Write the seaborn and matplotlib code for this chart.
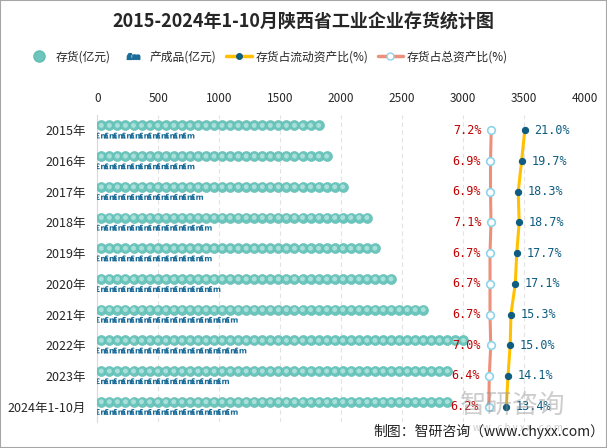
import numpy as np
import pandas as pd
import matplotlib
matplotlib.use('Agg')
from matplotlib import pyplot as plt
from matplotlib.lines import Line2D
from matplotlib.patches import Rectangle
import seaborn as sns

years = ['2015年', '2016年', '2017年', '2018年', '2019年', '2020年', '2021年',
         '2022年', '2023年', '2024年1-10月']
inventory = [1866, 1959, 2085, 2290, 2339, 2495, 2735, 3077, 2965, 2950]
finished = [793, 834, 875, 943, 946, 1033, 1142, 1274, 1123, 1170]
liquid_ratio = [21.0, 19.7, 18.3, 18.7, 17.7, 17.1, 15.3, 15.0, 14.1, 13.4]
total_ratio = [7.2, 6.9, 6.9, 7.1, 6.7, 6.7, 6.7, 7.0, 6.4, 6.2]

teal = '#6cc6bd'
teal_in = '#a9e0d9'
icon_blue = '#1b6d99'
gold = '#ffc000'
dot_blue = '#0e5c80'
salmon = '#ee9079'
ring = '#8fd3ea'
red_txt = '#c00000'

sns.set_style('white')
plt.rcParams['font.family'] = ['Noto Sans CJK SC', 'DejaVu Sans']

fig = plt.figure(figsize=(6.07, 4.48), dpi=100)
ax = fig.add_axes([0.1603, 0.058, 0.8035, 0.6853])
ax2 = ax.twiny()

ypos = np.arange(len(years))

# repeated symbols for the pictorial bars
def repeat_points(values, step, offset):
    xs, ys = [], []
    for i, v in enumerate(values):
        pts = np.arange(step / 2, v - step / 2 + 1, step)
        xs.extend(pts)
        ys.extend([i + offset] * len(pts))
    return pd.DataFrame({'x': xs, 'y': ys})

inv_df = repeat_points(inventory, 66, -0.16)
fin_df = repeat_points(finished, 71, 0.17)

sns.scatterplot(data=inv_df, x='x', y='y', ax=ax, s=52, color=teal,
                edgecolor='#62bcb2', linewidth=0.4, zorder=3, legend=False)
sns.scatterplot(data=inv_df, x='x', y='y', ax=ax, s=12, color=teal_in,
                edgecolor='none', zorder=4, legend=False)
sns.scatterplot(data=fin_df, x='x', y='y', ax=ax, s=80, color=icon_blue,
                marker=r'$\mathbf{£m}$', edgecolor='none', zorder=3, legend=False)

ax.set_xlim(0, 4000)
ax.set_ylim(len(years) - 0.5, -0.5)
ax.set_xticks(np.arange(0, 4001, 500))
ax.xaxis.tick_top()
ax.xaxis.set_label_position('top')
ax.tick_params(axis='x', length=0, labelsize=8.5, pad=7, labeltop=True,
               labelbottom=False)
ax.tick_params(axis='y', length=0, labelsize=9, pad=8)
ax.set_yticks(ypos)
ax.set_yticklabels(years)
ax.set_xlabel('')
ax.set_ylabel('')
ax.grid(axis='x', color='#e3e3e3', linestyle=(0, (4, 3)), linewidth=0.8)
for s in ['top', 'right', 'bottom']:
    ax.spines[s].set_visible(False)
ax.spines['left'].set_color('#d9d9d9')

# ratio lines on a second x axis
ax2.set_xlim(-154.9, 45.8)
ratio_df = pd.DataFrame({'y': ypos, 'liquid': liquid_ratio, 'total': total_ratio})
sns.lineplot(data=ratio_df, x='total', y='y', ax=ax2, orient='y', sort=False,
             color=salmon, linewidth=2.2, marker='o', markersize=5.5,
             markerfacecolor='white', markeredgecolor=ring, markeredgewidth=1.2,
             zorder=5)
sns.lineplot(data=ratio_df, x='liquid', y='y', ax=ax2, orient='y', sort=False,
             color=gold, linewidth=2.2, marker='o', markersize=4.5,
             markerfacecolor=dot_blue, markeredgecolor=dot_blue, zorder=5)
for i in ypos:
    ax2.annotate(f'{total_ratio[i]:.1f}%', (total_ratio[i], i), xytext=(-7, 0),
                 textcoords='offset points', ha='right', va='center',
                 color=red_txt, fontsize=8.5, family='DejaVu Sans Mono')
    ax2.annotate(f'{liquid_ratio[i]:.1f}%', (liquid_ratio[i], i), xytext=(7, 0),
                 textcoords='offset points', ha='left', va='center',
                 color=dot_blue, fontsize=8.5, family='DejaVu Sans Mono')
ax2.set_xticks([])
ax2.tick_params(axis='x', labeltop=False, labelbottom=False, length=0)
ax2.set_xlabel('')
ax2.set_ylabel('')
for s in ax2.spines.values():
    s.set_visible(False)
ax2.set_ylim(len(years) - 0.5, -0.5)

fig.text(0.5, 0.951, '2015-2024年1-10月陕西省工业企业存货统计图', ha='center',
         va='center', fontsize=13, fontweight='bold')

handles = [
    Line2D([], [], linestyle='none', marker='o', markersize=8, color=teal,
           markeredgecolor='#62bcb2'),
    Line2D([], [], linestyle='none', marker=r'$\mathbf{£m}$', markersize=9,
           color=icon_blue),
    Line2D([], [], color=gold, linewidth=2.5, marker='o', markersize=4,
           markerfacecolor=dot_blue, markeredgecolor=dot_blue),
    Line2D([], [], color=salmon, linewidth=2.5, marker='o', markersize=5,
           markerfacecolor='white', markeredgecolor=ring),
]
labels = ['存货(亿元)', '产成品(亿元)', '存货占流动资产比(%)', '存货占总资产比(%)']
fig.legend(handles, labels, loc='center', bbox_to_anchor=(0.44, 0.873), ncol=4,
           frameon=False, fontsize=8.5, handlelength=2.2, handletextpad=0.3,
           columnspacing=0.8)

# watermark and source note
fig.text(0.845, 0.094, '智研咨询', ha='center', va='center', fontsize=19,
         color='#909090', alpha=0.45)
fig.text(0.845, 0.045, 'w w w . c h y x x . c o m', ha='center', va='center',
         fontsize=7, color='#909090', alpha=0.45)
fig.text(0.995, 0.036, '制图：智研咨询（www.chyxx.com）', ha='right', va='center',
         fontsize=10, color='#222222')

fig.patches.append(Rectangle((0, 0), 1, 1, transform=fig.transFigure, fill=False,
                             edgecolor='#a6a6a6', linewidth=1.5))

fig.savefig('out.png', dpi=100)
